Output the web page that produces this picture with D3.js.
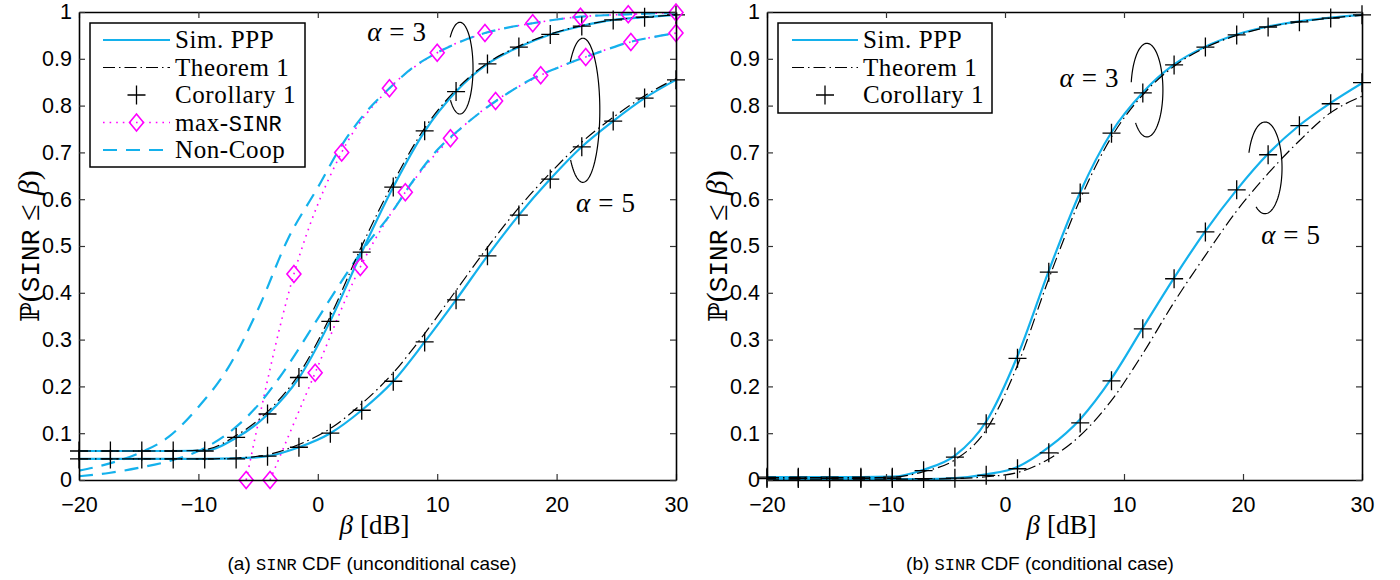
<!DOCTYPE html>
<html><head><meta charset="utf-8">
<script src="https://cdn.jsdelivr.net/npm/d3@7"></script>
<style>body{margin:0;background:#fff} svg{display:block}</style>
</head><body><svg id="c" width="1400" height="580"></svg>
<script>
// ---------------- DATA ----------------
const xTicks = [-20, -10, 0, 10, 20, 30];
const yTicks = [0, 0.1, 0.2, 0.3, 0.4, 0.5, 0.6, 0.7, 0.8, 0.9, 1];
const beta = [-20,-17.37,-14.74,-12.11,-9.47,-6.84,-4.21,-1.58,1.05,3.68,6.32,8.95,11.58,14.21,16.84,19.47,22.11,24.74,27.37,30];

// (a) unconditional case
const simA3 = [0.062,0.062,0.062,0.062,0.063,0.09,0.14,0.218,0.34,0.487,0.626,0.745,0.83,0.889,0.925,0.952,0.97,0.983,0.989,0.994];
const thmA3 = [0.062,0.062,0.062,0.062,0.065,0.095,0.146,0.226,0.35,0.5,0.636,0.752,0.834,0.891,0.927,0.953,0.971,0.983,0.989,0.994];
const corA3 = [0.062,0.062,0.062,0.062,0.062,0.091,0.141,0.219,0.339,0.487,0.626,0.746,0.83,0.889,0.925,0.952,0.97,0.983,0.989,0.994];
const simA5 = [0.045,0.045,0.045,0.045,0.045,0.046,0.051,0.07,0.1,0.149,0.211,0.295,0.385,0.479,0.566,0.643,0.712,0.767,0.816,0.855];
const thmA5 = [0.045,0.045,0.045,0.045,0.045,0.047,0.054,0.076,0.11,0.163,0.229,0.313,0.405,0.497,0.582,0.656,0.722,0.775,0.821,0.858];
const corA5 = [0.045,0.045,0.045,0.045,0.045,0.045,0.051,0.07,0.1,0.149,0.211,0.295,0.385,0.479,0.566,0.643,0.712,0.767,0.816,0.855];
const ncBeta = [-20,-17.5,-15,-12.5,-10,-7.5,-5,-2.5,0,2,4,6,8,10,12,14,16,18,20,22,24,26,28,30];
const ncA3 = [0.02,0.035,0.057,0.092,0.156,0.24,0.365,0.515,0.625,0.715,0.785,0.837,0.882,0.913,0.937,0.955,0.967,0.976,0.984,0.99,0.993,0.995,0.997,0.999];
const ncA5 = [0.008,0.015,0.026,0.04,0.062,0.1,0.16,0.245,0.345,0.425,0.5,0.565,0.64,0.705,0.752,0.793,0.828,0.858,0.88,0.9,0.918,0.935,0.946,0.955];
const msBetaA3 = [-6,-2,2,6,10,14,18,22,26,30];
const msA3 = [0,0.44,0.70,0.837,0.913,0.955,0.976,0.99,0.995,0.999];
const msBetaA5 = [-4,-0.22,3.56,7.33,11.11,14.89,18.67,22.44,26.22,30];
const msA5 = [0,0.229,0.455,0.615,0.73,0.81,0.865,0.904,0.936,0.955];

// (b) conditional case
const simR3 = [0.006,0.006,0.006,0.006,0.007,0.022,0.052,0.125,0.265,0.447,0.615,0.743,0.828,0.888,0.926,0.952,0.969,0.98,0.988,0.994];
const thmR3 = [0.005,0.005,0.005,0.005,0.006,0.018,0.043,0.107,0.245,0.43,0.6,0.733,0.823,0.884,0.924,0.95,0.968,0.979,0.987,0.993];
const corR3 = [0.006,0.006,0.006,0.006,0.006,0.02,0.049,0.12,0.26,0.444,0.613,0.741,0.827,0.887,0.925,0.951,0.968,0.979,0.987,0.994];
const simR5 = [0.002,0.002,0.002,0.002,0.002,0.002,0.004,0.012,0.028,0.07,0.13,0.217,0.325,0.432,0.532,0.62,0.697,0.758,0.806,0.848];
const thmR5 = [0.002,0.002,0.002,0.002,0.002,0.002,0.003,0.007,0.016,0.045,0.095,0.17,0.27,0.38,0.48,0.575,0.655,0.725,0.785,0.82];
const corR5 = [0.003,0.003,0.003,0.003,0.003,0.003,0.004,0.01,0.024,0.058,0.122,0.212,0.323,0.43,0.53,0.62,0.695,0.757,0.804,0.849];

const legendA = ["Sim. PPP", "Theorem 1", "Corollary 1", "max-SINR", "Non-Coop"];
const legendB = ["Sim. PPP", "Theorem 1", "Corollary 1"];

// ---------------- STYLE ----------------
const CYAN = "#14b1ec", MAG = "#ff00ff";
const SERIF = "'Liberation Serif', 'Times New Roman', serif";
const SANS = "'Liberation Sans', Arial, Helvetica, sans-serif";
const MONO = "'Liberation Mono', 'DejaVu Sans Mono', monospace";
const styles = {
  sim: {stroke: CYAN, width: 2.2, dash: null},
  thm: {stroke: "#000", width: 1.2, dash: "12,4,1.5,4"},
  nc:  {stroke: CYAN, width: 2.2, dash: "14,9"},
  ms:  {stroke: MAG, width: 1.6, dash: "1.6,5"}
};
const plusPath = "M-9,0H9M0,-9.5V9.5";
const diamondPath = "M0,-8.5L7,0L0,8.5L-7,0Z";

const svg = d3.select("#c");
const defs = svg.append("defs");

function drawPanel(cfg) {
  const x = d3.scaleLinear().domain([-20, 30]).range([cfg.x0, cfg.x1]);
  const y = d3.scaleLinear().domain([0, 1]).range([480, 12]);
  const g = svg.append("g");
  defs.append("clipPath").attr("id", "clip" + cfg.id).append("rect")
    .attr("x", cfg.x0).attr("y", 12).attr("width", cfg.x1 - cfg.x0).attr("height", 468);
  const lg = g.append("g").attr("clip-path", `url(#clip${cfg.id})`);
  const line = d3.line().x(d => x(d[0])).y(d => y(d[1])).curve(d3.curveMonotoneX);

  cfg.series.forEach(s => {
    const st = styles[s.type];
    lg.append("path").attr("d", line(d3.zip(s.b, s.v)))
      .attr("fill", "none").attr("stroke", st.stroke).attr("stroke-width", st.width)
      .attr("stroke-dasharray", st.dash);
  });
  const mg = g.append("g");
  cfg.markers.forEach(m => {
    mg.selectAll(null).data(d3.zip(m.b, m.v)).enter().append("path")
      .attr("d", m.type === "plus" ? plusPath : diamondPath)
      .attr("transform", d => `translate(${x(d[0])},${y(d[1])})`)
      .attr("fill", "none")
      .attr("stroke", m.type === "plus" ? "#000" : MAG)
      .attr("stroke-width", m.type === "plus" ? 1.3 : 1.6);
  });

  // annotations
  cfg.annot.forEach(a => {
    const cx = x(a.cb), cy = y(a.cp);
    const rx = x(a.cb + a.rb) - cx, ry = y(a.cp - a.rp) - cy;
    const t0 = Math.PI - Math.asin(a.g1), t1 = Math.PI - Math.asin(a.g2) + 2 * Math.PI;
    const pts = d3.range(0, 101).map(i => {
      const t = t0 + (t1 - t0) * i / 100;
      return [cx + rx * Math.cos(t), cy + ry * Math.sin(t)];
    });
    g.append("path").attr("d", d3.line()(pts)).attr("fill", "none")
      .attr("stroke", "#000").attr("stroke-width", 1.2);
    const t = g.append("text").attr("x", x(a.tb)).attr("y", y(a.tp) + 9)
      .attr("text-anchor", "middle").attr("font-family", SERIF).attr("font-size", 27);
    t.append("tspan").attr("font-style", "italic").text("α");
    t.append("tspan").attr("dx", 8).text("=");
    t.append("tspan").attr("dx", 8).text(a.label);
  });

  // axes
  const fmtY = d => d === 0 ? "0" : d === 1 ? "1" : d3.format(".1f")(d);
  const fmtX = d => d < 0 ? "\u2212" + Math.abs(d) : String(d);
  const axB = g.append("g").attr("transform", "translate(0,480)")
    .call(d3.axisBottom(x).tickValues(xTicks).tickSizeInner(-6).tickSizeOuter(0).tickPadding(17).tickFormat(fmtX));
  const axT = g.append("g").attr("transform", "translate(0,12)")
    .call(d3.axisTop(x).tickValues(xTicks).tickSizeInner(-6).tickSizeOuter(0).tickFormat(""));
  const axL = g.append("g").attr("transform", `translate(${cfg.x0},0)`)
    .call(d3.axisLeft(y).tickValues(yTicks).tickSizeInner(-6).tickSizeOuter(0).tickPadding(7).tickFormat(fmtY));
  const axR = g.append("g").attr("transform", `translate(${cfg.x1},0)`)
    .call(d3.axisRight(y).tickValues(yTicks).tickSizeInner(-6).tickSizeOuter(0).tickFormat(""));
  [axB, axT, axL, axR].forEach(a => {
    a.select(".domain").attr("stroke", "#000").attr("stroke-width", 1.6);
    a.selectAll(".tick line").attr("stroke", "#333").attr("stroke-width", 1.2);
    a.selectAll("text").attr("font-family", SANS).attr("font-size", 21.5).attr("fill", "#000");
  });

  // legend
  const L = cfg.legend;
  const lgd = g.append("g");
  lgd.append("rect").attr("x", L.x).attr("y", L.y).attr("width", L.w).attr("height", L.h)
    .attr("fill", "#fff").attr("stroke", "#000").attr("stroke-width", 1.5);
  L.items.forEach((name, i) => {
    const yy = L.y + 17 + i * L.step;
    const type = L.types[i];
    if (type === "plus") {
      lgd.append("path").attr("d", plusPath).attr("transform", `translate(${(L.s0 + L.s1) / 2},${yy})`)
        .attr("stroke", "#000").attr("stroke-width", 1.3).attr("fill", "none");
    } else {
      const st = styles[type];
      lgd.append("line").attr("x1", L.s0).attr("x2", L.s1).attr("y1", yy).attr("y2", yy)
        .attr("stroke", st.stroke).attr("stroke-width", st.width).attr("stroke-dasharray", st.dash);
      if (type === "ms") lgd.append("path").attr("d", diamondPath)
        .attr("transform", `translate(${(L.s0 + L.s1) / 2},${yy})`)
        .attr("fill", "none").attr("stroke", MAG).attr("stroke-width", 1.6);
    }
    const tx = lgd.append("text").attr("x", L.tx).attr("y", yy + 8)
      .attr("font-family", SERIF).attr("font-size", 25).attr("letter-spacing", 0.6);
    if (name === "max-SINR") {
      tx.append("tspan").text("max-");
      tx.append("tspan").attr("font-family", MONO).attr("font-size", 22).attr("letter-spacing", 0).text("SINR");
    } else tx.text(name);
  });

  // y label
  const yl = g.append("text").attr("transform", `translate(${cfg.x0 - 40},246) rotate(-90)`)
    .attr("text-anchor", "middle").attr("font-family", SERIF).attr("font-size", 30);
  yl.append("tspan").attr("font-family", "'DejaVu Serif', serif").attr("font-size", 26).text("ℙ");
  yl.append("tspan").text("(");
  yl.append("tspan").attr("font-family", MONO).attr("font-size", 26).text("SINR");
  yl.append("tspan").attr("dx", 9).text("≤");
  yl.append("tspan").attr("dx", 9).attr("font-style", "italic").text("β");
  yl.append("tspan").text(")");

  // x label
  const xl = g.append("text").attr("x", (cfg.x0 + cfg.x1) / 2 - 3).attr("y", 534)
    .attr("text-anchor", "middle").attr("font-family", SERIF).attr("font-size", 27);
  xl.append("tspan").attr("font-style", "italic").text("β");
  xl.append("tspan").attr("dx", 7).text("[dB]");

  // caption
  const cp = g.append("text").attr("x", cfg.capX).attr("y", 570)
    .attr("text-anchor", "middle").attr("font-family", SANS).attr("font-size", 19);
  cp.append("tspan").text(cfg.cap[0] + " ");
  cp.append("tspan").attr("font-family", MONO).attr("font-size", 17).text("SINR");
  cp.append("tspan").text(" " + cfg.cap[1]);
}

drawPanel({
  id: "a", x0: 79, x1: 676, capX: 372,
  cap: ["(a)", "CDF (unconditional case)"],
  series: [
    {type: "ms", b: msBetaA3, v: msA3},
    {type: "ms", b: msBetaA5, v: msA5},
    {type: "nc", b: ncBeta, v: ncA3},
    {type: "nc", b: ncBeta, v: ncA5},
    {type: "sim", b: beta, v: simA3},
    {type: "sim", b: beta, v: simA5},
    {type: "thm", b: beta, v: thmA3},
    {type: "thm", b: beta, v: thmA5}
  ],
  markers: [
    {type: "plus", b: beta, v: corA3},
    {type: "plus", b: beta, v: corA5},
    {type: "diamond", b: msBetaA3, v: msA3},
    {type: "diamond", b: msBetaA5, v: msA5}
  ],
  annot: [
    {label: "3", tb: 6.6, tp: 0.957, cb: 11.9, cp: 0.88, rb: 1.1, rp: 0.098, g1: -0.67, g2: 0.70},
    {label: "5", tb: 24.1, tp: 0.592, cb: 22.2, cp: 0.79, rb: 1.42, rp: 0.154, g1: -0.67, g2: 0.69}
  ],
  legend: {x: 90, y: 23, w: 215, h: 144, step: 27.5, s0: 103, s1: 170, tx: 175,
    items: legendA, types: ["sim", "thm", "plus", "ms", "nc"]}
});

drawPanel({
  id: "b", x0: 767, x1: 1362, capX: 1040,
  cap: ["(b)", "CDF (conditional case)"],
  series: [
    {type: "sim", b: beta, v: simR3},
    {type: "sim", b: beta, v: simR5},
    {type: "thm", b: beta, v: thmR3},
    {type: "thm", b: beta, v: thmR5}
  ],
  markers: [
    {type: "plus", b: beta, v: corR3},
    {type: "plus", b: beta, v: corR5}
  ],
  annot: [
    {label: "3", tb: 7.06, tp: 0.859, cb: 11.93, cp: 0.833, rb: 1.34, rp: 0.1, g1: -0.17, g2: 0.7},
    {label: "5", tb: 24.0, tp: 0.524, cb: 21.85, cp: 0.667, rb: 1.43, rp: 0.098, g1: -0.33, g2: 0.85}
  ],
  legend: {x: 778, y: 23, w: 214, h: 90, step: 27.5, s0: 792, s1: 858, tx: 863,
    items: legendB, types: ["sim", "thm", "plus"]}
});
</script></body></html>
